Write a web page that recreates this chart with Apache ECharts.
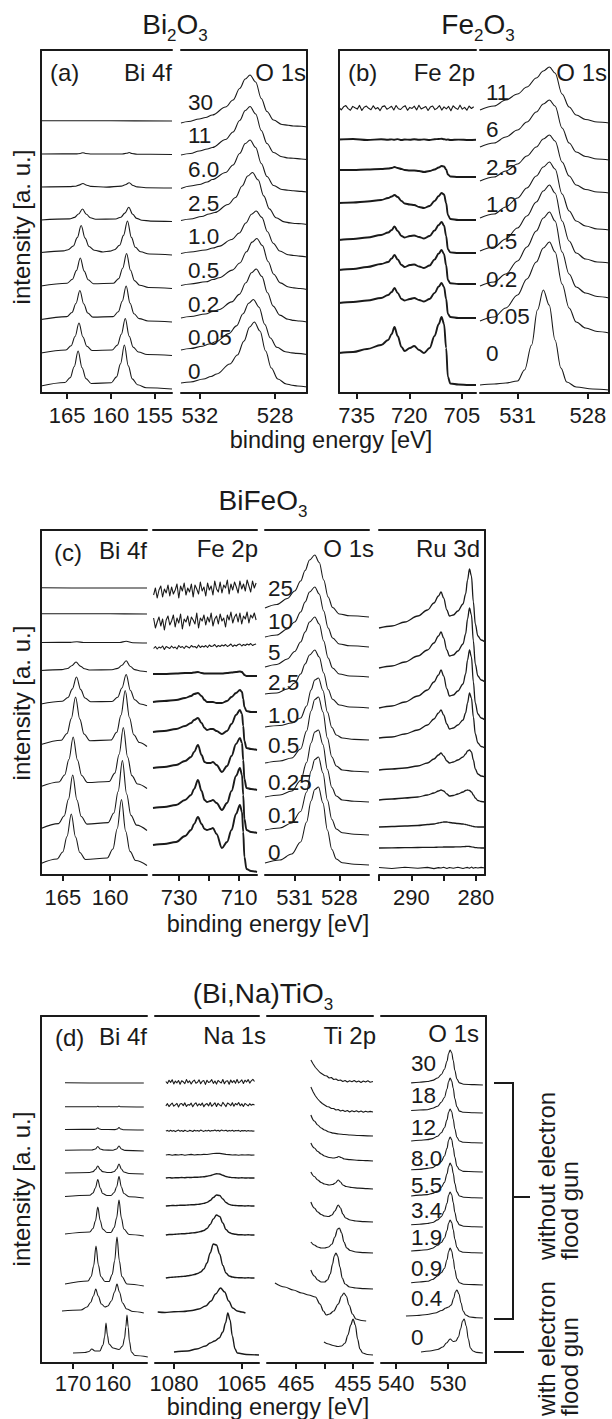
<!DOCTYPE html>
<html><head><meta charset="utf-8">
<script src="https://cdn.jsdelivr.net/npm/echarts@6/dist/echarts.min.js"></script>
<style>html,body{margin:0;padding:0;background:#fff}#c{width:612px;height:1419px}</style>
</head><body><div id="c"></div><script>
const zip = (E, v) => E.map((e, i) => [e, v[i]]);

// ================= (a) Bi2O3 =================
const dosesA = ['30','11','6.0','2.5','1.0','0.5','0.2','0.05','0'];
const offA_Bi4f = [272,238.5,205,171.5,138,104.5,71,37.5,4];
const specA_Bi4f = [
 [[168,0.2],[160,0.2],[153,0]],
 [[168,0.5],[164,0.6],[163.5,1],[163.2,1.8],[162.9,1],[162.2,0.5],[158.7,0.5],[158.2,1.2],[157.9,2],[157.6,1],[157,0.3],[153,0]],
 [[168,1],[164.7,1.4],[164.1,1.8],[163.65,2.9],[163.2,4.5],[162.75,2.7],[162.3,1.6],[160.5,0.9],[158.8,1.9],[158.35,3.3],[157.9,5.3],[157.45,2.5],[157,1.1],[156,0.3],[153,0]],
 [[168,1.5],[164.75,2.6],[164.15,4.1],[163.7,7.5],[163.25,12.5],[162.8,7.2],[162.35,3.8],[161.75,2.3],[159.45,2.5],[158.85,4.3],[158.4,8.4],[157.95,14.2],[157.5,7.2],[157.05,3.1],[156.45,1.3],[155.45,0.4],[153,0]],
 [[168,2.5],[165.4,4.1],[164.9,5.2],[164.3,9],[163.85,17.4],[163.4,29.5],[162.95,16.9],[162.5,8.5],[161.9,4.7],[160.9,3],[160.1,3.9],[159.6,5.2],[159,9.7],[158.55,19.6],[158.1,34],[157.65,17.6],[157.2,7.7],[156.6,3.2],[155.6,1],[153,0]],
 [[168,2.5],[165,5.3],[164.4,9.2],[163.95,17.9],[163.5,30.5],[163.05,17.4],[162.6,8.7],[162,4.8],[159.7,5.3],[159.1,9.9],[158.65,20.2],[158.2,35],[157.75,18.2],[157.3,7.9],[156.7,3.3],[155.7,1],[153,0]],
 [[168,2.5],[165.05,5.4],[164.45,9.5],[164,18.5],[163.55,31.5],[163.1,18],[162.65,9],[162.05,4.9],[159.75,5.4],[159.15,10.2],[158.7,20.7],[158.25,36],[157.8,18.7],[157.35,8.2],[156.75,3.4],[155.75,1],[153,0]],
 [[168,2.5],[165.15,5.5],[164.55,9.7],[164.1,19],[163.65,32.5],[163.2,18.5],[162.75,9.2],[162.15,5],[159.85,5.5],[159.25,10.4],[158.8,21.3],[158.35,37],[157.9,19.3],[157.45,8.4],[156.85,3.5],[155.85,1],[153,0]],
 [[168,3],[165.25,6.5],[164.65,11.4],[164.2,22.3],[163.75,38],[163.3,21.3],[162.85,10.4],[162.25,5.5],[159.95,6.2],[159.35,12.1],[158.9,25.1],[158.45,44],[158,23.1],[157.55,10.1],[156.95,4.2],[155.95,1.3],[153,0]]
];
const offA_O1s = [266,233.5,201,168.5,136,103.5,71,38.5,6];
const specA_O1s = [
 [[533,4],[532.6,5.5],[532.03,8],[531.7,9.5],[531.33,12],[530.63,20],[530.23,27],[529.88,38.5],[529.58,48],[529.33,52],[529.03,45],[528.73,28.5],[528.43,15.5],[528.08,7],[527.63,2.5],[527.3,1.8],[527.03,1],[526.6,0.8],[526.3,0]],
 [[533,4.5],[532.5,6],[532.03,8.5],[531.6,10.5],[531.33,12],[530.63,20],[530.23,27.5],[529.88,39],[529.58,49],[529.33,53],[529.03,45.5],[528.73,29],[528.43,16],[528.08,7],[527.63,2.7],[527.3,1.5],[527.03,1.2],[526.6,0.5],[526.3,0]],
 [[533,3.5],[532.5,6],[532.03,7.5],[531.6,10],[531.33,12.5],[530.63,19.5],[530.23,27],[529.88,38.5],[529.58,48.5],[529.33,52],[529.03,44.5],[528.73,28.5],[528.43,15.5],[528.08,6.5],[527.63,2.5],[527.3,1.8],[527.03,1.2],[526.6,0.6],[526.3,0]],
 [[533,4],[532.5,5.5],[531.9,8],[531.5,10.5],[531.2,12],[530.5,20],[530.1,27],[529.75,38.5],[529.45,48.5],[529.2,52],[528.9,44.7],[528.6,28.6],[528.3,15.6],[527.95,6.8],[527.5,2.6],[527.2,1.6],[526.9,1],[526.6,0.7],[526.3,0]],
 [[533,3.5],[532.5,5],[531.7,7],[531.3,9],[531,10.6],[530.3,17.5],[529.9,24],[529.55,34],[529.25,42.8],[529,46],[528.7,39.6],[528.4,25.3],[528.1,13.8],[527.75,6],[527.3,2.3],[527,1.5],[526.7,0.9],[526.3,0]],
 [[533,4],[532.5,5.5],[531.67,7.7],[531.3,10],[530.97,11.7],[530.27,19.4],[529.87,26.5],[529.52,37.7],[529.22,47.4],[528.97,51],[528.67,43.9],[528.37,28],[528.07,15.3],[527.72,6.6],[527.27,2.5],[527,1.6],[526.67,1],[526.3,0]],
 [[533,4],[532.5,5.5],[531.7,8],[531.3,10.5],[531,12.2],[530.3,20.1],[529.9,27.6],[529.55,39.2],[529.25,49.3],[529,53],[528.7,45.6],[528.4,29.2],[528.1,15.9],[527.75,6.9],[527.3,2.7],[527,1.6],[526.7,1],[526.3,0]],
 [[533,4.5],[532.5,6],[531.85,8.3],[531.5,10.5],[531.15,12.7],[530.45,20.9],[530.05,28.6],[529.7,40.7],[529.4,51.2],[529.15,55],[528.85,47.3],[528.55,30.3],[528.25,16.5],[527.9,7.2],[527.45,2.8],[527.1,1.6],[526.85,1.1],[526.3,0]],
 [[533,4],[532.5,5],[531.8,8],[531.4,10.5],[531.1,13],[530.4,23],[530,32],[529.65,46],[529.35,60],[529.1,65],[528.8,56],[528.5,36],[528.2,19],[527.85,8],[527.4,3],[527.1,1.8],[526.8,1],[526.3,0]]
];

// ================= (b) Fe2O3 =================
const dosesB = ['11','6','2.5','1.0','0.5','0.2','0.05','0'];
const eB_Fe = [740,736,732,728,726,725,724.2,723.3,722.2,721.3,719.8,718.6,717.2,715.8,714.2,712.8,711.6,710.8,710.1,709.5,709.0,708.3,706,703,701];
const eB_FeNoisy = [740,739.35,738.7,738.05,737.4,736.75,736.1,735.45,734.8,734.15,733.5,732.85,732.2,731.55,730.9,730.25,729.6,728.95,728.3,727.65,727,726.35,725.7,725.05,724.4,723.75,723.1,722.45,721.8,721.15,720.5,719.85,719.2,718.55,717.9,717.25,716.6,715.95,715.3,714.65,714,713.35,712.7,712.05,711.4,710.75,710.1,709.45,708.8,708.15,707.5,706.85,706.2,705.55,704.9,704.25,703.6,702.95,702.3,701.65];
const offB_Fe2p = [285,253,216,173,140,109,75,8];
const specB_Fe2p = [
 zip(eB_FeNoisy,[0.5,-1.8,1.2,2.4,-0.6,-2.2,1.6,0.2,-1.1,2.6,-2.4,0.8,1.9,-0.3,-1.7,2.2,-0.9,0.4,-2.6,1.4,2.1,-1.3,0.1,1.7,-2.0,2.5,-0.7,-1.5,1.0,2.3,-2.3,0.6,-0.4,1.8,-1.9,2.7,-1.0,0.3,1.5,-2.5,0.9,2.0,-1.6,-0.2,2.4,-2.1,1.1,-0.8,1.6,-2.7,2.2,0.0,-1.4,2.8,-1.2,0.7,-2.2,1.9,-0.5,1.3]),
 zip(eB_Fe,[0.5,1,0,0.8,0.3,0.6,0.2,0.9,0,0.5,0.3,0.8,0.2,0.6,0,0.7,1,1.2,0.8,0.3,0.5,0,0.4,0,0.2]),
 zip(eB_Fe,[7,7,7.5,8,8.5,9,10,9,8,7,6.5,6.5,6,5,6,7.5,9.5,11,10.5,7.5,2.5,0.5,0,0,0]),
 zip(eB_Fe,[17,17.5,18.5,20,22,23.5,25,23,19,16.5,15.5,15,13,12,14,19,24,27,25.5,17,5,1,0,0,0]),
 zip(eB_Fe,[13,14,15.5,18,20.5,23,26.5,22,17,15.5,17,17.5,16,14.5,17,22.5,28,31,27.5,17,3.7,0.6,0,0,0]),
 zip(eB_Fe,[14,15,17,20,22,25.5,29,24.5,19,17,19,19.5,17.5,16,18.5,24.5,30.5,34,30,18.7,4,0.7,0,0,0]),
 zip(eB_Fe,[15,16,17.5,20,23,26,30,25,19,17.5,19,20,18,16.5,19,25,31.5,35,31,19,4,1,0,0,0]),
 zip(eB_Fe,[32,33,36,40,45,51,58,49,38,34,37,39,35,32,37,49,61,68,61,37,8,1.5,0.5,0,0])
];
const eB_O = [532.6,532.0,531.5,531.0,530.6,530.2,529.9,529.64,529.4,529.1,528.8,528.5,528.1,527.6,527.1];
const offB_O1s = [270,233,200,163,130,95,60,3];
const specB_O1s = [
 zip(eB_O,[13,17,23,29,36,45,52,56,50,29,16,8,3.5,1,0]),
 zip(eB_O,[13,17,23,30,38,48,56,60,54,32,17,8,3.5,1,0]),
 zip(eB_O,[12,16,22,29,37,46,54,58,52,31,17,8,3.5,1,0]),
 zip(eB_O,[12,16,23,32,42,54,63,68,61,36,19,9,4,1,0]),
 zip(eB_O,[12,16,24,35,47,61,72,78,70,42,22,10,4,1,0]),
 zip(eB_O,[12,16,24,37,51,67,80,86,77,46,24,11,5,1.5,0]),
 zip(eB_O,[12,16,25,38,54,71,85,91,81,49,25,11,5,1.5,0]),
 [[532.6,5],[532,6],[531.5,7],[531,9],[530.7,20],[530.4,45],[530.15,80],[529.9,100],[529.65,85],[529.4,50],[529.15,22],[528.9,8],[528.5,3],[527.8,1],[527.1,0]]
];

// ================= (c) BiFeO3 =================
const dosesC = ['25','10','5','2.5','1.0','0.5','0.25','0.1','0'];
const offC_Bi4f = [287,261,232,203,168,127,85,43,8];
const specC_Bi4f = [
 [[167.3,0.3],[162,0],[156.1,0]],
 [[167.3,0.3],[160,0.2],[156.1,0]],
 [[167.3,0.5],[164.2,0.6],[163.5,1.3],[162.8,0.5],[159,0.5],[158.3,1.8],[157.6,0.3],[156.1,0]],
 [[167.3,1.5],[165.1,2.4],[164.5,3.5],[164.05,6.2],[163.6,10],[163.15,5.9],[162.7,3.2],[162.1,2],[159.8,2.2],[159.2,3.6],[158.75,6.7],[158.3,11.2],[157.85,5.5],[157.4,2.4],[156.8,1],[156.1,0.3]],
 [[167.3,3],[165.05,5.7],[164.45,9.5],[164,17.9],[163.55,30],[163.1,17.4],[162.65,9],[162.05,5.2],[159.8,5.5],[159.2,9.7],[158.75,19],[158.3,32.5],[157.85,16.5],[157.4,7.2],[156.8,3],[156.1,1.2]],
 [[167.3,3.5],[165.15,7.8],[164.55,14.5],[164.1,29.4],[163.65,51],[163.2,28.9],[162.75,14],[162.15,7.3],[159.9,8],[159.3,15.7],[158.85,32.7],[158.4,57.5],[157.95,30.3],[157.5,13.2],[156.9,5.5],[156.1,1.5]],
 [[167.3,3.5],[165.4,8],[164.8,15],[164.35,30.5],[163.9,53],[163.45,30],[163,14.5],[162.4,7.5],[160.1,8.5],[159.5,16.9],[159.05,35.5],[158.6,62.5],[158.15,33],[157.7,14.4],[157.1,6],[156.1,1.5]],
 [[167.3,3.5],[165.45,8.4],[164.85,16],[164.4,32.7],[163.95,57],[163.5,32],[163.05,15.5],[162.45,7.9],[160.2,9.4],[159.6,19],[159.15,40.5],[158.7,71.5],[158.25,38],[157.8,16.6],[157.2,6.9],[156.1,1.5]],
 [[167.3,3.5],[165.6,8],[165,15],[164.55,30.5],[164.1,53],[163.65,30],[163.2,14.5],[162.6,7.5],[160.3,9],[159.7,18],[159.25,38.3],[158.8,67.5],[158.35,35.8],[157.9,15.6],[157.3,6.5],[156.1,1.5]]
];
const eC_Fe = [738.7,735,731,728,726,725,723.7,722.5,721.5,720.7,719.5,718.7,717.5,715.7,714,712.5,711,709.7,709,708.6,708.2,707.5,706,704];
const eC_FeNoisy = [738.5,737.9,737.3,736.7,736.1,735.5,734.9,734.3,733.7,733.1,732.5,731.9,731.3,730.7,730.1,729.5,728.9,728.3,727.7,727.1,726.5,725.9,725.3,724.7,724.1,723.5,722.9,722.3,721.7,721.1,720.5,719.9,719.3,718.7,718.1,717.5,716.9,716.3,715.7,715.1,714.5,713.9,713.3,712.7,712.1,711.5,710.9,710.3,709.7,709.1,708.5,707.9,707.3,706.7,706.1,705.5,704.9,704.3];
const offC_Fe2p = [286,255,228,199,163,125,85,42,3];
const specC_Fe2p = [
 zip(eC_FeNoisy,[-6,1,-9,-1,3,-8,0,-4,4,-7,2,-5,-1,5,-9,3,-2,6,-6,1,-3,5,-8,4,0,-5,7,-2,2,-7,6,-1,3,-6,8,0,-3,7,-4,4,1,9,-5,5,-1,7,2,-4,8,0,5,-2,9,3,-3,8,1,6]),
 zip(eC_FeNoisy,[2,-8,-2,3,-6,1,-10,0,4,-5,-1,5,-7,2,-3,6,-9,1,-2,4,-6,3,0,-4,7,-8,2,-1,5,-5,3,-2,7,-6,1,4,-4,6,-1,2,-7,5,0,8,-3,3,6,-2,7,-4,4,1,8,-3,5,2,7,0]),
 zip(eC_FeNoisy,[-1.5,0.5,-2,0,-1,1,-2.5,0.5,-0.5,-1.5,1,-1,0,-2,1.5,-0.5,0.5,-1.5,1,0,-1,1.5,0,0.5,-1,2,-0.5,1,0,1.5,-0.5,2,0.5,1,2.5,0,1.5,0.5,2,1,2.5,0.5,1.5,3,0.5,2,1,2.5,3,1,2.5,1.5,3,2,3.5,1.5,2.5,3]),
 zip(eC_Fe,[2,2,2.5,3,3,3.5,4,3,2.5,2.5,2.5,2.5,2.5,2.5,3,3.5,4,4.5,4,2.5,1,0,0,0]),
 zip(eC_Fe,[10,11,12,14,16,18,19,16,12,10,10,10,9,9,11,15,19,22,20,13,5,1,0,0]),
 zip(eC_Fe,[18,19,21,24,27,30,32,27,22,20,21,21,19,16,19,26,35,40,36,24,9,2,1,0]),
 zip(eC_Fe,[22,23,25,29,33,38,45,35,28,27,27,28,25,18,24,34,46,52,47,30,11,2,1,0]),
 zip(eC_Fe,[25,26,28,33,38,44,53,42,33,31,32,33,30,23,30,42,57,65,58,38,14,3,1,0]),
 zip(eC_Fe,[27,28,30,36,42,48,55,48,43,42,43,44,38,24,30,42,58,67,60,40,15,3,1,0])
];
const eC_Oup = [533,532.2,531.5,531,530.6,530.3,530,529.65,529.35,529.05,528.75,528.45,528,527.3,526];
const eC_Olow = [533,532,531.2,530.6,530.2,529.9,529.65,529.4,529.1,528.8,528.5,528.2,527.8,527,526];
const offC_O1s = [258,228,198,167,135,103,73,40,10];
const specC_O1s = [
 zip(eC_Oup,[9,12.5,18.5,26,36,46.5,57,62,54.5,37,20,9.5,3,1.2,0]),
 zip(eC_Oup,[10,12,18,25,35,45,55,60,53,36,19,9,3,1.2,0]),
 zip(eC_Oup,[10,12.5,18,25.5,35,45,55,60,53,36,19,9,3,1,0]),
 zip(eC_Oup,[14,15,19,25,34,44,53,58,51,35,18.5,8.7,3,1,0]),
 zip(eC_Olow,[13,14.5,17,22,34,50,60,62,49.5,28,12.5,5,2,0.6,0]),
 zip(eC_Olow,[9,11,14,23,41,61,72.5,75,60,34,15,6,2,0.7,0]),
 zip(eC_Olow,[5,7,11,21.5,39.5,59,70,72,57.5,32.5,14.5,6,2,0.7,0]),
 zip(eC_Olow,[5,7,12,23.5,43,64,75.5,78,62,35,15.5,6,2.3,0.8,0]),
 zip(eC_Olow,[2,5,11,23,43,64,75.5,78,62,35,15.5,6,2.3,0.8,0])
];
const eC_Ru = [295,293,291,289,287.5,286.5,285.8,285.4,285,284.5,284.1,283.5,282.8,282,281.6,281.3,281,280.7,280.4,280.1,279.7,279.2,278.6];
const offC_Ru3d = [233,193,155,127,98,73,48,27,7];
const specC_Ru3d = [
 zip(eC_Ru,[14,16,20,26,32,39,46,50,44,32,26,27,31,38,48,62,73,66,40,18,6,2,0]),
 zip(eC_Ru,[14,16,20,26,32,39,46,50,44,32,26,27,31,38,48,63,74,67,41,18,6,2,0]),
 zip(eC_Ru,[12,14,18,24,30,38,45,50,44,31,24,25,29,36,46,60,70,63,38,17,6,2,0]),
 zip(eC_Ru,[10,11,14,18,23,29,35,38,33,24,19,20,23,28,35,45,55,50,31,14,5,1.5,0]),
 zip(eC_Ru,[7,8,9,11,14,18,22,24,21,16,14,15,17,20,23,26,27,25,17,8,3,1,0]),
 zip(eC_Ru,[2,3,4,5,7,9,11,12,11,8,6,6.5,8,10,11.5,12,11.5,10,7,4,1.5,0.5,0]),
 zip(eC_Ru,[0,0.5,1,1.5,2.5,3,4,4.5,5,5,4.5,4,3.5,3,2.5,2,1.5,1,0.5,0.2,0,0,0]),
 zip(eC_Ru,[0,0.2,0.3,0.5,0.6,0.7,0.8,0.9,1,1,1,1,1.1,1.3,1.5,1.6,1.5,1.2,0.8,0.4,0.2,0,0]),
 zip(eC_Ru,[0.5,-0.5,0.8,-0.3,0.6,-0.6,0.4,0,0.7,-0.4,0.5,-0.2,0.8,-0.5,0.3,0.6,-0.3,0.9,-0.2,0.5,0,0.6,0])
];

// ================= (d) (Bi,Na)TiO3 =================
const dosesD = ['30','18','12','8.0','5.5','3.4','1.9','0.9','0.4','0'];
const offD_Bi4f = [280,256,233,212,189,165,127,77,50,6];
const specD_Bi4f = [
 [[172,0.3],[162,0],[152.3,0]],
 [[172,0.3],[164,0.3],[163.8,0.8],[163.5,0.3],[158.8,0.3],[158.5,1],[158.2,0.3],[152.3,0]],
 [[172,0.5],[164.8,0.6],[164.2,1],[163.8,2.2],[163.4,1],[162.8,0.5],[159.5,0.4],[158.9,1],[158.5,2.5],[158.1,1],[157.5,0.3],[152.3,0]],
 [[172,0.8],[165.3,1],[164.4,2],[163.8,4.5],[163.2,2],[162.3,1],[160,0.8],[159.1,2],[158.5,5],[157.9,2],[157,0.6],[152.3,0]],
 [[172,1],[165.8,1.5],[165,2.4],[164.4,4.5],[163.8,8],[163.2,4.5],[162.6,2.4],[161.5,1.5],[160.5,1.5],[159.7,2.5],[159.1,5],[158.5,10],[157.9,5],[157.3,2],[156,0.5],[152.3,0]],
 [[172,1.5],[165.8,2.8],[165,5],[164.4,10],[163.8,18.5],[163.2,10],[162.6,4.5],[161.5,2.5],[160.5,2.5],[159.7,5.5],[159.1,11],[158.5,21.5],[157.9,11],[157.3,4.5],[156,1.2],[152.3,0]],
 [[172,2],[165.8,4],[165,7.5],[164.4,15],[163.8,29],[163.2,15.5],[162.6,7],[161.5,3.5],[160.5,3.5],[159.7,8.5],[159.1,18],[158.5,36],[157.9,18],[157.3,7],[156,1.5],[152.3,0]],
 [[172,2],[166.25,5],[165.45,9.5],[164.85,20],[164.25,40],[163.65,21],[163.05,9.5],[162,4.5],[161,4.5],[160.2,11.5],[159.6,25],[159,49],[158.4,25],[157.8,9.5],[156.5,2],[152.3,0]],
 [[172.75,2],[168,3],[166.5,6],[165.6,10.5],[164.9,17],[164.3,24],[163.7,17],[162.9,9],[162,6],[161.3,7],[160.4,12],[159.6,21],[159,29],[158.4,21],[157.6,10],[156.6,4],[155,1.5],[152.3,0]],
 [[170,4],[167,4.5],[166,5.5],[165.3,8],[164.5,6],[163.3,6],[162.5,12],[162.1,20],[161.75,34],[161.4,22],[161,13],[160,9],[158.5,7.5],[157.6,11],[157.1,19],[156.8,30],[156.5,42],[156.2,30],[155.9,16],[155.4,5],[154.5,1.5],[151.3,0]]
];
const eD_Na = [1081.8,1081.1,1080.4,1079.7,1079.0,1078.3,1077.6,1076.9,1076.2,1075.5,1074.8,1074.1,1073.4,1072.7,1072.0,1071.3,1070.6,1069.9,1069.2,1068.5,1067.8,1067.1,1066.4,1065.7,1065.0,1064.3,1063.6,1062.9,1062.2];
const eD_NaNoisy = [1081.8,1081.45,1081.1,1080.75,1080.4,1080.05,1079.7,1079.35,1079.0,1078.65,1078.3,1077.95,1077.6,1077.25,1076.9,1076.55,1076.2,1075.85,1075.5,1075.15,1074.8,1074.45,1074.1,1073.75,1073.4,1073.05,1072.7,1072.35,1072.0,1071.65,1071.3,1070.95,1070.6,1070.25,1069.9,1069.55,1069.2,1068.85,1068.5,1068.15,1067.8,1067.45,1067.1,1066.75,1066.4,1066.05,1065.7,1065.35,1065.0,1064.65,1064.3,1063.95,1063.6,1063.25,1062.9,1062.55,1062.2];
const offD_Na1s = [281,258,232,208,185,157,128,85,50,8];
const specD_Na1s = [
 zip(eD_NaNoisy,[0.5,-1.5,1.8,-0.4,2.2,-1.9,0.9,-0.8,1.5,-2.3,1.2,0.2,-1.6,2.4,-0.7,1.1,-2.0,0.6,1.9,-1.2,-0.3,2.1,-1.8,0.8,1.4,-2.4,1.7,-0.5,0.3,2.3,-1.4,1.0,-2.1,1.6,0.1,-1.0,2.5,-1.7,0.7,1.3,-2.2,2.0,-0.6,1.5,-1.3,2.6,-0.9,0.4,2.1,-1.5,1.8,0.0,2.4,-1.1,1.2,2.7,0.5]),
 zip(eD_NaNoisy,[-0.8,1.3,-1.6,0.4,1.9,-1.2,0.2,1.6,-2.0,0.9,1.5,-0.6,2.1,-1.4,0.5,-0.2,1.8,-1.7,0.8,2.2,-1.0,1.2,-0.4,2.0,-1.8,0.6,1.4,-0.9,2.5,-1.3,0.3,2.2,-1.5,1.7,0.0,-1.1,2.6,0.5,-1.6,1.9,1.0,-0.7,2.3,-1.2,1.5,0.2,2.4,-0.8,1.1,-1.5,1.6,0.4,-0.9,1.3,-0.3,0.8,0.0]),
 zip(eD_NaNoisy,[0,0.6,-0.4,0.8,-0.2,0.5,-0.6,0.3,0.9,-0.3,0.4,-0.5,0.7,0.1,-0.4,0.6,0.2,-0.5,0.8,0,0.5,-0.3,0.9,0.2,-0.4,0.6,0.1,0.8,-0.2,0.5,0.3,1.0,0.1,0.7,-0.3,0.9,0.4,0.2,0.8,-0.2,0.6,0.1,0.7,-0.3,0.5,0.2,0.6,-0.4,0.4,0.1,0.5,-0.2,0.4,0,0.3,-0.1,0]),
 zip(eD_Na,[0,0.5,-0.3,0.4,0,0.5,-0.2,0.3,0.6,0,0.4,0.2,0.6,0.5,1,1.5,1.8,1.6,1.1,0.6,0.4,0,0.3,-0.2,0.3,0,0.2,-0.1,0]),
 zip(eD_Na,[0,0.4,0,0.3,0.2,0.5,0.3,0.6,0.5,0.7,0.8,1,1.3,1.7,2.4,3.4,4.2,4,2.8,1.5,0.8,0.4,0.3,0,0.2,0,0.1,0,0]),
 zip(eD_Na,[0,0.3,0.5,0.4,0.6,0.8,0.7,1,1.2,1.3,1.6,2,2.6,3.6,5.5,8.5,11,10.5,7,3.5,1.6,0.8,0.5,0.2,0.3,0,0.2,0,0]),
 zip(eD_Na,[0,0.5,0.5,0.8,1,1.2,1.3,1.6,2,2.3,2.8,3.5,4.5,6.5,10.5,16,20,18.5,12,5.5,2.5,1.2,0.7,0.3,0.3,0,0.2,0,0]),
 zip(eD_Na,[0,0.5,0.8,1,1.2,1.5,1.8,2.2,2.8,3.5,4.5,6,9,15,25,34,33,24,12.5,5,2,1,0.5,0.3,0.2,0,0.2,0,0]),
 [[1083.6,1],[1082,0.5],[1080,1.2],[1078,1.5],[1076,2.5],[1074.5,4],[1073,7],[1071.8,12],[1070.8,19],[1069.7,25],[1068.8,21],[1067.9,12],[1067,5],[1066,2],[1065,1],[1064.2,0]],
 [[1080,3],[1077,4],[1075,6],[1073,9],[1072,12],[1071,14],[1070,17],[1069.2,23],[1068.6,32],[1068.1,42],[1067.6,35],[1067.1,19],[1066.5,6],[1066,2],[1064,0.5],[1061.2,0]]
];
const offD_Ti2p = [281,251,227,202,174,141,110,74,42,8];
const specD_Ti2p = [
 [[462.4,22],[462,18],[461.6,14.5],[461.2,12],[460.8,9.5],[460.4,8],[460,6.5],[459.6,6],[459.2,4],[458.8,4.5],[458.4,2.5],[458,3],[457.6,1.5],[457.2,2],[456.8,0.5],[456.4,1.5],[456,0],[455.6,1.2],[455.2,0.3],[454.8,1.5],[454.4,0],[454,1],[453.6,-0.5],[453.2,1],[452.8,0],[452.4,1.2],[452,-0.3],[451.5,0.5]],
 [[462.4,25],[462,20],[461.6,16],[461.2,13],[460.8,10.5],[460.4,8.5],[460,7],[459.6,5.5],[459.2,5],[458.8,3.5],[458.4,3.5],[458,2],[457.6,2.5],[457.2,1],[456.8,1.8],[456.4,0.5],[456,1.5],[455.6,0],[455.2,1.2],[454.8,0.2],[454.4,1.3],[454,0],[453.6,1],[453.2,-0.3],[452.8,0.8],[452.4,0],[452,0.6],[451.5,0]],
 [[462.4,21],[461.8,15],[461.2,11],[460.6,8],[460,6],[459.2,4],[458.4,2.8],[457.5,2],[456.5,1.5],[455.5,1],[454,0.5],[452.5,0.2],[451.5,0]],
 [[462.4,18],[461.8,13],[461.2,9.5],[460.6,7],[460,5],[459.2,3.5],[458.4,3],[457.9,3.5],[457.5,4.5],[457.1,3.5],[456.5,2],[455.5,1.3],[454,0.7],[452.5,0.3],[451.5,0]],
 [[462.4,17],[461.8,12.5],[461.2,9],[460.6,6.5],[460,5],[459.2,4],[458.6,4.5],[458.1,6],[457.6,9],[457.2,7],[456.8,4],[456.2,2.5],[455.2,1.5],[454,0.8],[452.5,0.3],[451.5,0]],
 [[462.4,20],[461.8,14],[461.2,10],[460.6,7.5],[460,6],[459.3,5.5],[458.7,7],[458.2,11],[457.6,17],[457.2,14],[456.8,8],[456.3,4],[455.5,2],[454.5,1],[453,0.4],[451.5,0]],
 [[462.4,11],[461.8,8],[461.2,6],[460.6,5],[460,5],[459.3,6],[458.7,9],[458.2,16],[457.7,24],[457.4,25],[457,20],[456.6,11],[456.1,5],[455.5,2.5],[454.5,1],[453,0.4],[451.5,0]],
 [[462.4,19],[461.8,13],[461.2,9],[460.6,7],[460,7],[459.5,9],[459,15],[458.6,25],[458.3,33],[458,36],[457.7,33],[457.3,22],[456.9,11],[456.4,5],[455.6,2],[454.5,1],[453,0.3],[451.5,0]],
 [[468.7,38],[467,34],[465.5,31],[464,28],[462.8,26],[461.6,24],[460.8,17],[460.2,10],[459.7,6],[459.1,7],[458.4,10],[457.6,17],[457,25],[456.6,28],[456.2,25],[455.7,16],[455.1,7],[454.5,2],[453.5,0.5],[452.7,0]],
 [[460.1,13],[459.3,11],[458.5,9.5],[457.7,8.5],[457,9],[456.4,12],[455.9,20],[455.4,30],[455,36],[454.6,30],[454.2,16],[453.8,6],[453.3,2],[452.5,0.5],[451.5,0]]
];
const eD_O = [537.1,535.5,534,533,532,531.3,530.7,530.2,529.9,529.6,529.3,529,528.7,528.3,527.8,527,525,523.3];
const offD_O1s = [278,250,220,191,165,136,110,78,45,10];
const specD_O1s = [
 zip(eD_O,[2.1,2.8,3.5,4.6,7,10.5,15.8,23.8,31.5,35,32.2,24.5,14.7,6,2.1,0.7,0.35,0]),
 zip(eD_O,[2.5,3,3.3,4.7,6.8,10.8,15.5,24,31.2,35,32,24.8,14.4,6.2,1.9,0.8,0.2,0]),
 zip(eD_O,[2,2.7,3.4,4.4,6.8,10.2,15.3,23.1,30.6,34,31.3,23.8,14.3,5.8,2,0.7,0.3,0]),
 zip(eD_O,[2.2,2.6,3.6,4.4,7.2,10.4,16,23.6,31.7,35,32.4,24.2,15,5.8,2.2,0.6,0.3,0]),
 zip(eD_O,[2,2.9,3.4,4.6,6.9,10.7,15.6,24.1,31.3,35,32.1,24.7,14.6,6.1,2,0.8,0.2,0]),
 zip(eD_O,[2.3,2.7,3.5,4.5,7.1,10.4,15.9,23.7,31.6,35,32.3,24.4,14.8,5.9,2.1,0.7,0.3,0]),
 zip(eD_O,[2,2.6,3.3,4.8,7.8,10.5,15,22.4,29.7,33,30.4,23.1,13.9,5.6,2,0.7,0.3,0]),
 zip(eD_O,[2.2,3,3.7,5.5,9,12.2,16.7,25.2,33.3,37,34,25.9,15.5,6.3,2.2,0.7,0.4,0]),
 [[538.1,2],[536,2.5],[534,3.5],[532.5,5],[531.2,7.5],[530.4,10],[529.9,11],[529.4,13],[528.9,20],[528.6,26],[528.3,28],[527.9,24],[527.5,15],[527.1,7],[526.6,3],[525.8,1],[524.5,0.3],[523.3,0]],
 [[535.2,1],[533.5,2],[532,3.5],[531,6],[530.3,10],[529.6,14],[529,11.5],[528.5,12],[528,16],[527.6,24],[527.2,32],[526.9,34],[526.5,27],[526.1,14],[525.7,5],[525.2,2],[524.5,0.6],[523.3,0]]
];

// ================= layout & styling =================
const INK = '#1a1a1a';
const FONT = "'Liberation Sans', Arial, Helvetica, sans-serif";
const GRIDS = [
 {l:41, r:172, t:50, b:393, min:153, max:168, ticks:[155,160,165], labs:[155,160,165], side:'left', m:11},
 {l:181, r:307, t:50, b:393, min:526.3, max:533.0, ticks:[528,532], labs:[528,532], side:'right', m:11},
 {l:339, r:476, t:50, b:393, min:701, max:740, ticks:[705,720,735], labs:[705,720,735], side:'left', m:11},
 {l:480, r:609, t:50, b:393, min:527.1, max:532.6, ticks:[528,531], labs:[528,531], side:'right', m:11},
 {l:41, r:147, t:530, b:875, min:156.1, max:167.3, ticks:[160,165], labs:[160,165], side:'left', m:11},
 {l:153, r:257, t:530, b:875, min:704, max:738.7, ticks:[710,720,730], labs:[710,730], m:11},
 {l:265, r:369, t:530, b:875, min:526, max:533, ticks:[528,531], labs:[528,531], m:11},
 {l:379, r:485, t:530, b:875, min:278.6, max:295, ticks:[280,285,290,295], labs:[280,290], side:'right', m:11},
 {l:41, r:147, t:1016, b:1363, min:151.5, max:178, ticks:[160,170], labs:[160,170], side:'left', m:9},
 {l:155, r:259, t:1016, b:1363, min:1061.2, max:1084.2, ticks:[1065,1080], labs:[1065,1080], m:9},
 {l:267, r:373, t:1016, b:1363, min:451.5, max:470.1, ticks:[455,460,465], labs:[455,465], m:9},
 {l:381, r:486, t:1016, b:1363, min:522.7, max:542.9, ticks:[530,540], labs:[530,540], side:'right', m:9}
];
const SUBPANELS = [
 {g:0, off:offA_Bi4f, sp:specA_Bi4f, lw:1.1},
 {g:1, off:offA_O1s, sp:specA_O1s, lw:1.1},
 {g:2, off:offB_Fe2p, sp:specB_Fe2p, lw:1.9, rough:[0]},
 {g:3, off:offB_O1s, sp:specB_O1s, lw:1.1},
 {g:4, off:offC_Bi4f, sp:specC_Bi4f, lw:1.1},
 {g:5, off:offC_Fe2p, sp:specC_Fe2p, lw:1.9, rough:[0,1,2]},
 {g:6, off:offC_O1s, sp:specC_O1s, lw:1.1},
 {g:7, off:offC_Ru3d, sp:specC_Ru3d, lw:1.3, rough:[8]},
 {g:8, off:offD_Bi4f, sp:specD_Bi4f, lw:1.1},
 {g:9, off:offD_Na1s, sp:specD_Na1s, lw:1.4, rough:[0,1,2,3]},
 {g:10, off:offD_Ti2p, sp:specD_Ti2p, lw:1.2, rough:[0,1]},
 {g:11, off:offD_O1s, sp:specD_O1s, lw:1.1}
];

const grid = [], xAxis = [], yAxis = [], series = [];
GRIDS.forEach((g, i) => {
  grid.push({left:g.l, top:g.t, width:g.r-g.l, height:g.b-g.t, containLabel:false});
  const line = {show:true, onZero:false, lineStyle:{color:INK, width:2}};
  xAxis.push({gridIndex:i, type:'value', position:'bottom', inverse:true, min:g.min, max:g.max,
    axisLine:line,
    axisTick:{show:true, inside:false, length:6, lineStyle:{color:INK, width:2}, customValues:g.ticks},
    axisLabel:{show:true, customValues:g.labs, formatter:v => String(v), fontSize:22, fontFamily:FONT, color:INK, margin:g.m, hideOverlap:false},
    splitLine:{show:false}});
  xAxis.push({gridIndex:i, type:'value', position:'top', inverse:true, min:g.min, max:g.max,
    axisLine:line, axisTick:{show:false}, axisLabel:{show:false}, splitLine:{show:false}});
  yAxis.push({gridIndex:i, type:'value', min:0, max:g.b-g.t, position:g.side === 'right' ? 'right' : 'left',
    show:!!g.side, axisLine:line, axisTick:{show:false}, axisLabel:{show:false}, splitLine:{show:false}});
});
SUBPANELS.forEach(p => {
  p.sp.forEach((s, k) => {
    const rough = (p.rough || []).includes(k);
    series.push({type:'line', xAxisIndex:2*p.g, yAxisIndex:p.g, silent:true, animation:false,
      showSymbol:false, symbol:'none', smooth: rough ? false : 0.35, smoothMonotone:'x',
      lineStyle:{color:INK, width: rough ? 1.1 : p.lw, join:'round'},
      data: s.map(d => [d[0], d[1] + p.off[k]])});
  });
});

// ---------- texts ----------
const T = (x, y, s, fs, align, rot) => ({type:'text', x, y, rotation: rot || 0, silent:true,
  style:{text:s, fontSize:fs, fontFamily:FONT, fill:INK, align:align || 'left', verticalAlign:'middle',
         textAlign:align || 'left', textVerticalAlign:'middle'}});
const richTitle = (x, y, parts) => ({type:'text', x, y, silent:true,
  style:{text:parts, align:'center', verticalAlign:'middle', textAlign:'center', textVerticalAlign:'middle', fill:INK,
    rich:{m:{fontSize:28, fontFamily:FONT, lineHeight:40, fill:INK, color:INK},
          s:{fontSize:17, fontFamily:FONT, verticalAlign:'bottom', fill:INK, color:INK}}}});
const g = [];
g.push(richTitle(175, 24, '{m|Bi}{s|2}{m|O}{s|3}'));
g.push(richTitle(478, 24, '{m|Fe}{s|2}{m|O}{s|3}'));
g.push(richTitle(263, 500, '{m|BiFeO}{s|3}'));
g.push(richTitle(263, 993, '{m|(Bi,Na)TiO}{s|3}'));

// panel / core-level labels
[[50,72,'(a)','left'],[172,72,'Bi 4f','right'],[306,72,'O 1s','right'],
 [348,72,'(b)','left'],[475,72,'Fe 2p','right'],[607,72,'O 1s','right'],
 [54,552,'(c)','left'],[147,550,'Bi 4f','right'],[258,548,'Fe 2p','right'],[374,548,'O 1s','right'],[480,548,'Ru 3d','right'],
 [55,1037,'(d)','left'],[147,1036,'Bi 4f','right'],[266,1035,'Na 1s','right'],[376,1035,'Ti 2p','right'],[479,1033,'O 1s','right']
].forEach(a => g.push(T(a[0], a[1], a[2], 24, a[3])));

// dose labels
const doseX = [188, 486, 268, 411];
const doseY = [
 [102,135.6,169,203,236,270,304,337,371],
 [92,129,167,204,241,279,316,353],
 [588,621,652,682,715,745,782,815,852],
 [1063,1095,1127,1158,1185,1210,1237,1268,1298,1337]
];
[dosesA, dosesB, dosesC, dosesD].forEach((ds, j) => ds.forEach((d, k) => g.push(T(doseX[j], doseY[j][k], d, 22.5, 'left'))));

// axis titles
[[331,440],[268,924],[268,1407]].forEach(p => g.push(T(p[0], p[1], 'binding energy [eV]', 23.5, 'center')));
[227, 703, 1189].forEach(y => g.push(T(21, y, 'intensity [a. u.]', 24, 'center', Math.PI/2)));

// flood-gun annotation
const S = {stroke:INK, lineWidth:2, fill:null};
g.push({type:'polyline', silent:true, shape:{points:[[494,1083],[513,1083],[513,1319],[494,1319]]}, style:S});
g.push({type:'line', silent:true, shape:{x1:513, y1:1197, x2:530, y2:1197}, style:S});
g.push({type:'line', silent:true, shape:{x1:494, y1:1352, x2:524, y2:1352}, style:S});
g.push(T(546, 1260, 'without electron', 24, 'left', Math.PI/2));
g.push(T(569, 1260, 'flood gun', 24, 'left', Math.PI/2));
g.push(T(546, 1416, 'with electron', 24, 'left', Math.PI/2));
g.push(T(569, 1416, 'flood gun', 24, 'left', Math.PI/2));

const chart = echarts.init(document.getElementById('c'), null, {renderer:'svg', width:612, height:1419});
chart.setOption({animation:false, backgroundColor:'#ffffff', grid, xAxis, yAxis, series, graphic:{elements:g}});
</script></body></html>
